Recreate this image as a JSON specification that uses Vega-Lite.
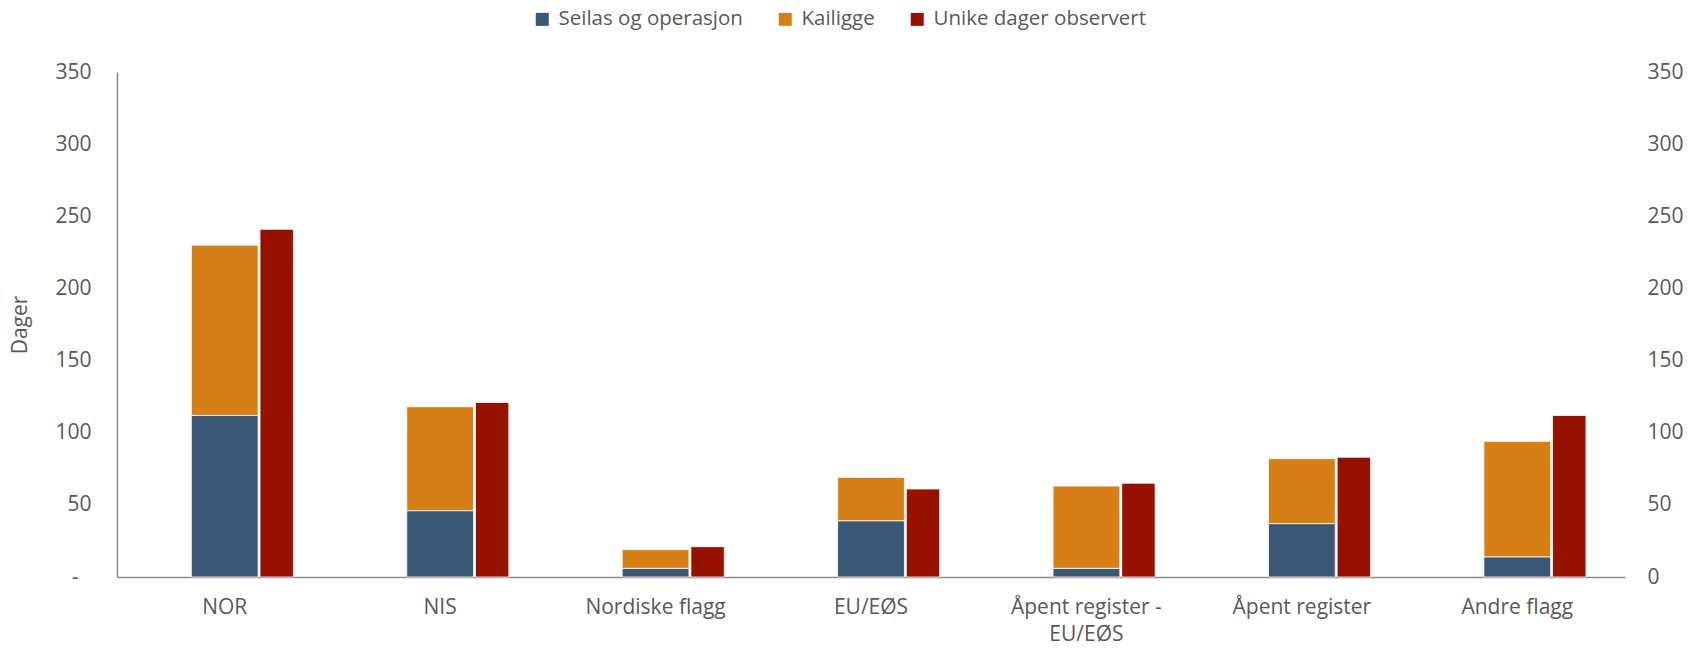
{
  "$schema": "https://vega.github.io/schema/vega-lite/v6.json",
  "width": 1508,
  "height": 505,
  "autosize": {"type": "none"},
  "padding": {"left": 117, "top": 72, "right": 63, "bottom": 71},
  "background": "#ffffff",
  "config": {
    "view": {"stroke": null},
    "font": "Open Sans",
    "axis": {"labelFont": "Open Sans", "titleFont": "Open Sans", "labelColor": "#595959", "titleColor": "#595959", "labelFontSize": 21, "titleFontSize": 21, "titleFontWeight": "normal", "grid": false, "ticks": false}
  },
  "data": {
    "values": [
      {"kategori": "NOR", "serie": "Seilas og operasjon", "verdi": 112},
      {"kategori": "NOR", "serie": "Kailigge", "verdi": 118},
      {"kategori": "NOR", "serie": "Unike dager observert", "verdi": 241},
      {"kategori": "NIS", "serie": "Seilas og operasjon", "verdi": 46},
      {"kategori": "NIS", "serie": "Kailigge", "verdi": 72},
      {"kategori": "NIS", "serie": "Unike dager observert", "verdi": 121},
      {"kategori": "Nordiske flagg", "serie": "Seilas og operasjon", "verdi": 6},
      {"kategori": "Nordiske flagg", "serie": "Kailigge", "verdi": 13},
      {"kategori": "Nordiske flagg", "serie": "Unike dager observert", "verdi": 21},
      {"kategori": "EU/EØS", "serie": "Seilas og operasjon", "verdi": 39},
      {"kategori": "EU/EØS", "serie": "Kailigge", "verdi": 30},
      {"kategori": "EU/EØS", "serie": "Unike dager observert", "verdi": 61},
      {"kategori": "Åpent register - EU/EØS", "serie": "Seilas og operasjon", "verdi": 6},
      {"kategori": "Åpent register - EU/EØS", "serie": "Kailigge", "verdi": 57},
      {"kategori": "Åpent register - EU/EØS", "serie": "Unike dager observert", "verdi": 65},
      {"kategori": "Åpent register", "serie": "Seilas og operasjon", "verdi": 37},
      {"kategori": "Åpent register", "serie": "Kailigge", "verdi": 45},
      {"kategori": "Åpent register", "serie": "Unike dager observert", "verdi": 83},
      {"kategori": "Andre flagg", "serie": "Seilas og operasjon", "verdi": 14},
      {"kategori": "Andre flagg", "serie": "Kailigge", "verdi": 80},
      {"kategori": "Andre flagg", "serie": "Unike dager observert", "verdi": 112}
    ]
  },
  "encoding": {
    "x": {
      "field": "kategori",
      "type": "nominal",
      "sort": ["NOR", "NIS", "Nordiske flagg", "EU/EØS", "Åpent register - EU/EØS", "Åpent register", "Andre flagg"],
      "scale": {"paddingInner": 0, "paddingOuter": 0},
      "axis": {
        "title": null,
        "labelAngle": 0,
        "labelPadding": 19,
        "labelLimit": 0,
        "domainColor": "#8c8c8c",
        "domainWidth": 1.5,
        "labelExpr": "datum.label == 'Åpent register - EU/EØS' ? ['Åpent register -', 'EU/EØS'] : datum.label",
        "labelLineHeight": 27
      }
    },
    "color": {
      "field": "serie",
      "type": "nominal",
      "scale": {
        "domain": ["Seilas og operasjon", "Kailigge", "Unike dager observert"],
        "range": ["#3a5775", "#d77f17", "#961100"]
      },
      "legend": {
        "title": null,
        "orient": "none",
        "direction": "horizontal",
        "legendX": 415,
        "legendY": -63,
        "symbolType": "square",
        "symbolSize": 169,
        "symbolStrokeWidth": 0,
        "labelFont": "Open Sans",
        "labelFontSize": 20.5,
        "labelColor": "#595959",
        "labelLimit": 0,
        "columnPadding": 32,
        "labelOffset": 6
      }
    }
  },
  "layer": [
    {
      "transform": [{"filter": "datum.serie != 'Unike dager observert'"}],
      "mark": {"type": "bar", "width": {"band": 0.31}, "stroke": "#ffffff", "strokeWidth": 0.8},
      "encoding": {
        "y": {
          "field": "verdi",
          "type": "quantitative",
          "stack": "zero",
          "scale": {"domain": [0, 350]},
          "axis": {
            "title": "Dager",
            "titlePadding": 24,
            "values": [0, 50, 100, 150, 200, 250, 300, 350],
            "labelExpr": "datum.value == 0 ? '-' : datum.label",
            "labelPadding": {"condition": {"test": "datum.value == 0", "value": 39}, "value": 26},
            "domainColor": "#8c8c8c",
            "domainWidth": 1.5
          }
        },
        "order": {"field": "serie", "sort": "descending"}
      }
    },
    {
      "transform": [{"filter": "datum.serie == 'Unike dager observert'"}],
      "mark": {"type": "bar", "width": {"band": 0.155}, "xOffset": 52, "stroke": "#ffffff", "strokeWidth": 0.8},
      "encoding": {
        "y": {
          "field": "verdi",
          "type": "quantitative",
          "scale": {"domain": [0, 350]},
          "axis": {
            "orient": "right",
            "title": null,
            "values": [0, 50, 100, 150, 200, 250, 300, 350],
            "labelPadding": 22,
            "domain": false
          }
        }
      }
    }
  ],
  "resolve": {"scale": {"y": "independent"}}
}
